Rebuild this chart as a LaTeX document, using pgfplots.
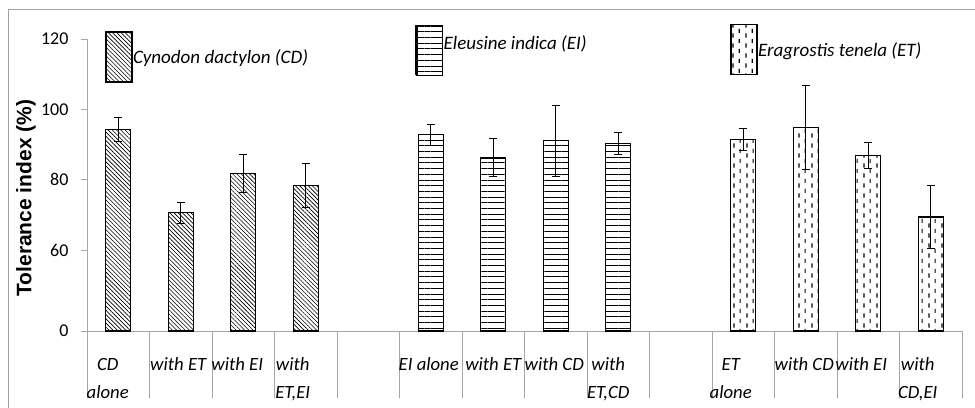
\documentclass[border=0pt]{standalone}
\usepackage{fontspec}
\setmainfont{Carlito}
\newfontfamily\labfont{Liberation Sans}
\usepackage{pgfplots}
\pgfplotsset{compat=1.18}
\usetikzlibrary{patterns,patterns.meta}
\definecolor{axisgray}{HTML}{A6A6A6}
\definecolor{framegray}{HTML}{A0A0A0}

\pgfdeclarepatternformonly{etdash}{\pgfqpoint{0bp}{0bp}}{\pgfqpoint{12.6bp}{10bp}}{\pgfqpoint{12.6bp}{10bp}}{%
  \pgfsetlinewidth{1.2bp}%
  \pgfpathmoveto{\pgfqpoint{3.15bp}{0.5bp}}\pgfpathlineto{\pgfqpoint{3.15bp}{5bp}}%
  \pgfpathmoveto{\pgfqpoint{9.45bp}{5.5bp}}\pgfpathlineto{\pgfqpoint{9.45bp}{10bp}}%
  \pgfusepath{stroke}}

\newcommand{\cl}[2][0bp]{\hspace*{-#1}\begin{tabular}{@{}c@{}}#2\end{tabular}}

\pgfplotsset{
  base/.style={
    at={(87bp,-331bp)}, anchor=south west, scale only axis,
    width=875bp, height=292bp,
    xmin=-0.5, xmax=13.5, ymin=37, ymax=120,
    y coord trafo/.code={\pgfmathparse{##1-37}},
    y coord inv trafo/.code={\pgfmathparse{##1+37}},
    ybar, bar width=25bp,
    legend image code/.code={\draw[##1] (0bp,-25bp) rectangle (26bp,25bp);},
    legend style={draw=none, fill=none, inner sep=0pt, anchor=north west,
      nodes={inner xsep=0.5bp},
      font=\fontsize{19bp}{21bp}\selectfont\itshape},
    error bars/error bar style={black, line width=1bp},
    error bars/error mark options={rotate=90, black, mark size=4bp, line width=1bp},
  },
}

\begin{document}
\begin{tikzpicture}
\useasboundingbox (0,0) rectangle (975bp,-408bp);
\fill[white] (0,0) rectangle (975bp,-408bp);
\draw[framegray, line width=1bp] (8bp,-408bp) -- (8bp,-9bp) -- (975bp,-9bp);

\begin{axis}[base,
  axis lines*=left,
  axis line style={draw=axisgray, line width=1bp},
  tick align=outside,
  major tick length=6bp, minor tick length=67bp,
  tick style={draw=axisgray, line width=1bp},
  major x tick style={draw=none},
  ytick={37,60,80,100,120}, yticklabels={0,60,80,100,120},
  xtick={0,...,13}, minor xtick={-0.5,0.5,...,13.5},
  xticklabels={{\cl[21bp]{CD\\alone}},{\cl[5bp]{with ET}},{\cl[12bp]{with EI}},{\cl[26bp]{with\\ET,EI}},{},
    {\cl[4bp]{EI alone}},{\cl{with ET}},{\cl[3bp]{with CD}},{\cl[20bp]{with\\ET,CD}},{},
    {\cl[25bp]{ET\\alone}},{\cl[3bp]{with CD}},{\cl[14bp]{with EI}},{\cl[26bp]{with\\CD,EI}}},
  /pgf/number format/assume math mode=true,
  yticklabel style={font=\fontsize{18bp}{20bp}\selectfont, text=black, xshift=-9bp},
  xticklabel style={font=\fontsize{18.7bp}{28.5bp}\selectfont\itshape, text=black, anchor=north, inner sep=0pt, yshift=-13bp},
  ylabel={Tolerance index (\%)},
  ylabel style={at={(axis description cs:-0.0697,0.455)}, anchor=center,
    font=\labfont\bfseries\fontsize{21bp}{24bp}\selectfont},
  legend style={at={(axis description cs:0.0206,1.0274)}},
]
\addplot[draw=black, line width=1.3bp, pattern={Lines[angle=-45,distance=3bp,line width=0.6bp]},
  error bars/.cd, y dir=both, y explicit]
  table[x=x, y=y, y error=e] {
x y e
0 94.3 3.4
1 70.6 3.0
2 81.8 5.4
3 78.4 6.2
};
\addlegendentry{Cynodon dactylon (CD)}
\end{axis}

\begin{axis}[base, hide axis,
  legend image code/.code={\draw[#1] (0bp,-32bp) rectangle (26bp,18bp); \draw[black, line width=2.5bp] (0bp,-32bp) -- (0bp,18bp);},
  legend style={at={(axis description cs:0.3749,1.0524)}},
]
\addplot[draw=black, line width=1.3bp, pattern={Lines[angle=0,distance=5.7bp,line width=0.8bp]},
  error bars/.cd, y dir=both, y explicit]
  table[x=x, y=y, y error=e] {
x y e
5 92.8 3.0
6 86.2 5.4
7 91.1 10.1
8 90.3 3.2
};
\addlegendentry{Eleusine indica (EI)}
\end{axis}

\begin{axis}[base, hide axis,
  legend style={at={(axis description cs:0.7349,1.0514)}},
]
\addplot[draw=black, line width=1.3bp, pattern=etdash,
  error bars/.cd, y dir=both, y explicit]
  table[x=x, y=y, y error=e] {
x y e
10 91.5 3.2
11 94.8 11.9
12 86.9 3.7
13 69.4 9.0
};
\addlegendentry{Eragrostis tenela (ET)}
\end{axis}
\end{tikzpicture}
\end{document}
